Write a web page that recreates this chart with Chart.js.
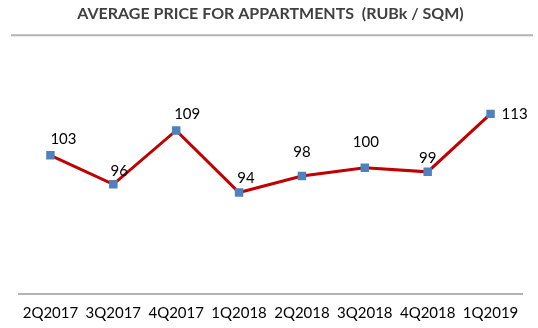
<!DOCTYPE html>
<html>
<head>
<meta charset="utf-8">
<script src="https://cdn.jsdelivr.net/npm/chart.js@4/dist/chart.umd.min.js"></script>
<style>
  html, body { margin: 0; padding: 0; background: #fff; }
  #wrap { width: 538px; height: 328px; }
</style>
</head>
<body>
<div id="wrap"><canvas id="chart" width="538" height="328"></canvas></div>
<script>
const quarters = ["2Q2017", "3Q2017", "4Q2017", "1Q2018", "2Q2018", "3Q2018", "4Q2018", "1Q2019"];
const avgPrice = [103, 96, 109, 94, 98, 100, 99, 113];

// label nudges (px) relative to each point, as placed in the original
const labelOffsets = [[13, -16], [6, -13], [11, -16], [7, -14], [0, -24], [1, -26], [0, -14], [24, 0]];

const font = "Lato, 'Open Sans', sans-serif";

// top separator line + value labels
const extras = {
  id: "extras",
  afterDatasetsDraw(c) {
    const ctx = c.ctx;
    const top = c.chartArea.top;
    ctx.save();
    ctx.strokeStyle = "#b3b3b3";
    ctx.lineWidth = 2;
    ctx.beginPath();
    ctx.moveTo(11, top);
    ctx.lineTo(533, top);
    ctx.stroke();

    ctx.fillStyle = "#000";
    ctx.font = "15px " + font;
    ctx.textAlign = "center";
    ctx.textBaseline = "middle";
    c.getDatasetMeta(0).data.forEach((pt, i) => {
      const o = labelOffsets[i];
      ctx.fillText(String(avgPrice[i]), pt.x + o[0], pt.y + o[1]);
    });
    ctx.restore();
  }
};

new Chart(document.getElementById("chart"), {
  type: "line",
  data: {
    labels: quarters,
    datasets: [{
      data: avgPrice,
      borderColor: "#c00000",
      borderWidth: 3,
      pointStyle: "rect",
      pointRadius: 6,
      pointBackgroundColor: "#4f81bd",
      pointBorderColor: "#4f81bd",
      pointBorderWidth: 0,
      tension: 0
    }]
  },
  options: {
    responsive: false,
    animation: false,
    layout: { padding: { left: 19, right: 16, top: 0, bottom: 0 } },
    plugins: {
      legend: { display: false },
      tooltip: { enabled: false },
      title: {
        display: true,
        text: "AVERAGE PRICE FOR APPARTMENTS  (RUBk / SQM)",
        color: "#404040",
        font: { family: font, size: 16, weight: "bold" },
        padding: { top: 4, bottom: 12 }
      }
    },
    scales: {
      x: {
        offset: true,
        grid: { display: false, drawTicks: false },
        border: { display: true, color: "#b3b3b3", width: 2 },
        ticks: { color: "#000", font: { family: font, size: 15, lineHeight: 1 }, padding: 12, maxRotation: 0, autoSkip: false },
        afterFit(scale) { scale.height = 34; }
      },
      y: {
        display: false,
        min: 69.5,
        max: 132
      }
    }
  },
  plugins: [extras]
});
</script>
</body>
</html>
